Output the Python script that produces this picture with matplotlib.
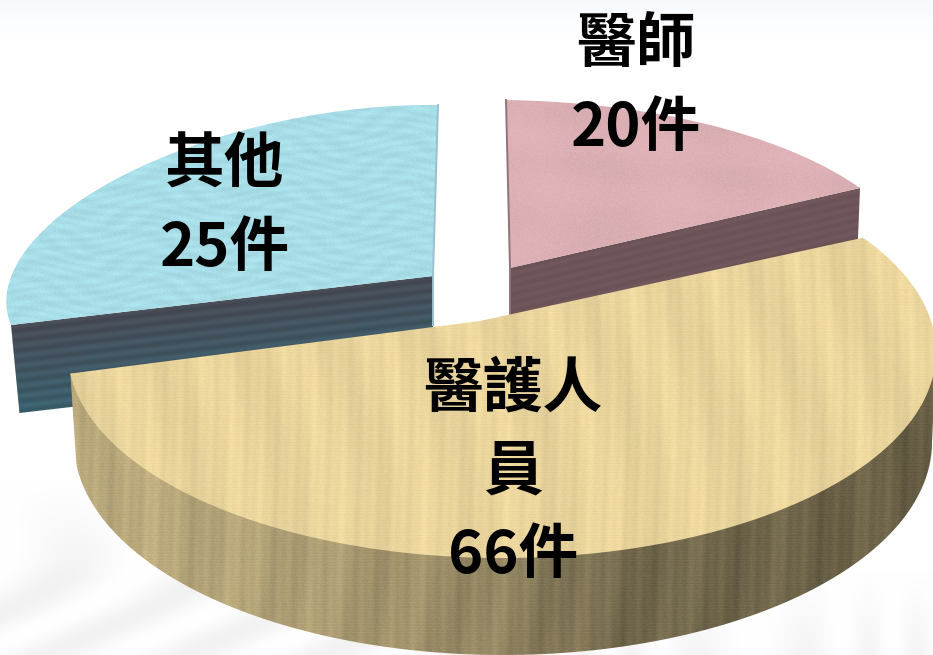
import numpy as np
import matplotlib
matplotlib.use('Agg')
import matplotlib.pyplot as plt
from matplotlib.patches import Polygon

plt.rcParams['font.family'] = ['Noto Sans CJK TC', 'DejaVu Sans']

# chart values
categories = ['醫師', '醫護人\n員', '其他']
counts = [20, 66, 25]

W, H = 933, 655
yy, xx = np.mgrid[0:H, 0:W].astype(float)


def grain(a, b):
    # deterministic fine grain, -1..1
    v = np.sin(xx * a + yy * b) * 43758.5453
    return (v - np.floor(v)) * 2 - 1


def paint(color, field):
    rgb = np.array(matplotlib.colors.to_rgb(color))
    return np.clip(rgb[None, None, :] * (1 + field[:, :, None]), 0, 1)


def fit_homography(src, dst):
    rows, rhs = [], []
    for (x, y), (u, v) in zip(src, dst):
        rows.append([x, y, 1, 0, 0, 0, -u * x, -u * y])
        rows.append([0, 0, 0, x, y, 1, -v * x, -v * y])
        rhs += [u, v]
    h = np.linalg.solve(np.array(rows, float), np.array(rhs, float))
    return np.append(h, 1).reshape(3, 3)


def project(h, pts):
    p = np.column_stack([pts, np.ones(len(pts))]) @ h.T
    return p[:, :2] / p[:, 2:]


def unit(deg):
    return [np.cos(np.radians(deg)), np.sin(np.radians(deg))]


def outline(wedge):
    # the wedge outline as points, curves sampled finely
    path = wedge.get_path().transformed(wedge.get_patch_transform())
    t = np.linspace(0, 1, 40)
    return np.vstack([seg(t) for seg, code in path.iter_bezier()])


# textures
pink = paint('#dcb0b5', 0.018 * np.sin(xx * .03 + 4 * np.sin(yy * .02)) * np.sin(yy * .05 + xx * .02)
             + 0.018 * grain(12.9898, 78.233))
blue_cells = np.sin(xx * .11 + 2.5 * np.sin(yy * .13)) * np.sin(yy * .55 + 2 * np.sin(xx * .05))
blue = paint('#a8dee8', 0.035 * blue_cells + 0.018 * grain(39.3, 11.1))
wood_field = (0.022 * np.sin(xx * .07 + 3 * np.sin(yy * .009)) + 0.016 * np.sin(xx * .23 + 2 * np.sin(yy * .01))
              + 0.012 * np.sin(xx * .61 + 1.7 * np.sin(yy * .013)) + 0.010 * np.sin(yy * 2.1)
              + 0.014 * grain(7.13, 91.7))
wood = paint('#e9d49c', wood_field)
wall_tone = np.interp(xx, [70, 300, 480, 620, 933], [-.18, -.25, -.36, -.50, -.55])
wood_wall = paint('#e9d49c', wall_tone + 1.3 * wood_field)
rose_wall = paint('#6e5559', 0.035 * np.sin((yy + xx * .24) * .75) + 0.015 * grain(3.3, 17.7))
teal_u = np.clip((yy + .12 * xx - 327) / 90, 0, 1)[:, :, None]
teal_wall = (np.array(matplotlib.colors.to_rgb('#474b55')) * (1 - teal_u)
             + np.array(matplotlib.colors.to_rgb('#3b6170')) * teal_u)
teal_wall = np.clip(teal_wall * (1 + 0.07 * np.sin((yy + xx * .12) * .62))[:, :, None], 0, 1)

# background
bg = np.ones((H, W, 3))
top = np.clip((38 - yy) / 38, 0, 1)[:, :, None]
bg -= top * np.array([.035, .018, .008])
low = np.clip((yy - np.where(xx < 500, 480, 570)) / 100, 0, 1)
soft = 0.5 + 0.5 * np.sin((xx + yy) * .045 + 2 * np.sin(yy * .03))
bars = 0.5 + 0.5 * np.sin(xx * .09 + 2 * np.sin(xx * .021))
mix = np.where(xx < 500, soft, bars)
bg -= (low * mix * 0.05)[:, :, None]

fig = plt.figure(figsize=(W / 100, H / 100), dpi=100)
ax = fig.add_axes([0, 0, 1, 1])

wedges, _ = ax.pie(counts, startangle=90, counterclock=False, radius=1)

# on-screen anchors of the two small slices: centre, first corner, second corner, arc point
anchors = {
    0: dict(center=(510, 268), a=(860, 188), b=(506, 100), arc=(710, 125), depth=52, k=.006),
    2: dict(center=(433, 276), a=(438, 105), b=(11, 325), arc=(130, 172), depth=89, k=.02),
}
# big slice sits on an ellipse seen from the front, its wall on a second one below it
big = dict(apex=(480, 321), ex=502, ey=352, rx=434, ry=206, start=33.7, end=-174.0,
           ex2=503, ey2=442, rx2=429, ry2=213)
tops = {0: pink, 1: wood, 2: blue}
wall_tex = {0: rose_wall, 1: wood_wall, 2: teal_wall}
order = [0, 2, 1]


def textured(poly, tex, z):
    patch = Polygon(poly, closed=True, facecolor='none', edgecolor='none', zorder=z)
    ax.add_patch(patch)
    im = ax.imshow(tex, extent=(0, W, H, 0), aspect='auto', zorder=z, interpolation='nearest')
    im.set_clip_path(patch)


ax.imshow(bg, extent=(0, W, H, 0), aspect='auto', zorder=0)

for n, i in enumerate(order):
    w = wedges[i]
    t1, t2 = w.theta1, w.theta2
    pts = outline(w)
    on_arc = np.hypot(pts[:, 0], pts[:, 1]) > .999
    w.set_visible(False)
    z = 2 + n * 3

    if i == 1:
        # wedge angles stretched a little onto the visible ellipse
        deg = np.degrees(np.arctan2(pts[on_arc, 1], pts[on_arc, 0]))
        deg = np.where(deg > t2 + 1, deg - 360, deg)
        view = np.sort(big['start'] + (deg - t2) * (big['start'] - big['end']) / (t2 - t1))
        rad = np.radians(view)
        arc = np.column_stack([big['ex'] + big['rx'] * np.cos(rad), big['ey'] - big['ry'] * np.sin(rad)])
        low_arc = np.column_stack([big['ex2'] + big['rx2'] * np.cos(rad), big['ey2'] - big['ry2'] * np.sin(rad)])
        front = view <= 0
        textured(np.vstack([low_arc[front], arc[front][-1], arc[0]]), wall_tex[i], z)
        top_poly = np.vstack([arc, big['apex']])
    else:
        anc = anchors[i]
        src = [(0, 0), unit(t1), unit(t2), unit((t1 + t2) / 2)]
        h = fit_homography(src, [anc['center'], anc['a'], anc['b'], anc['arc']])
        top_poly = project(h, pts)
        c = np.array(anc['center'], float)
        corner = np.array(anc['a'] if i == 0 else anc['b'], float)

        def drop(p):
            return c + (p - c) * (1 - anc['k']) + np.array([0, anc['depth']])

        # flat cut face along the front edge
        textured(np.array([c, corner, drop(corner), drop(c)]), wall_tex[i], z)
    textured(top_poly, tops[i], z + 1)

ax.plot([506, 510, 510], [100, 268, 315], color='#8f7478', lw=1.4, zorder=3)
ax.plot([438, 433, 433], [105, 276, 325], color='#9cbfcc', lw=1.4, zorder=6)

label_pos = [(636, 87), (513, 473), (225, 207)]
for name, n, (x, y) in zip(categories, counts, label_pos):
    ax.text(x, y, '{}\n{}件'.format(name, n), ha='center', va='center', ma='center',
            fontsize=43, fontweight='bold', color='black', linespacing=1.49, zorder=20)

ax.set_xlim(0, W)
ax.set_ylim(H, 0)
ax.set_aspect('auto')
ax.axis('off')
fig.savefig('out.png', dpi=100)
